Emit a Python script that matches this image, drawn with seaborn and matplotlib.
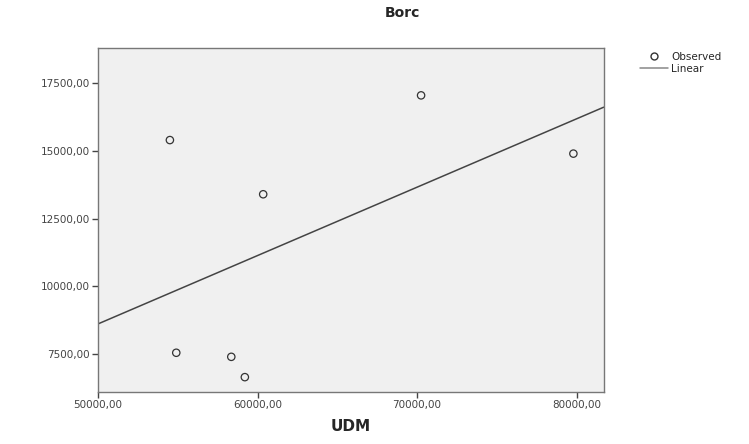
import matplotlib.pyplot as plt
import seaborn as sns
import pandas as pd
from matplotlib.lines import Line2D

udm = [54500, 70250, 79800, 60350, 54900, 58350, 59200]
borc = [15400, 17050, 14900, 13400, 7550, 7400, 6650]

xticks = [50000, 60000, 70000, 80000]
yticks = [7500, 10000, 12500, 15000, 17500]

df = pd.DataFrame({'UDM': udm, 'Borc': borc})

sns.set_style('white')
plt.rcParams['font.family'] = ['DejaVu Sans']

fig = plt.figure(figsize=(7.49, 4.44), dpi=100)
ax = fig.add_axes([0.131, 0.117, 0.675, 0.775])
ax.set_facecolor('#f0f0f0')
ax.set_xlim(50000, 81700)
ax.set_ylim(6100, 18800)

sns.regplot(x='UDM', y='Borc', data=df, ax=ax, ci=None, truncate=False,
            marker='o',
            scatter_kws={'s': 28, 'facecolors': 'none', 'edgecolors': '#333333',
                         'linewidths': 0.9, 'alpha': 1},
            line_kws={'color': '#444444', 'linewidth': 1.1})

ax.set_xticks(xticks)
ax.set_yticks(yticks)
ax.set_xticklabels([f'{v},00' for v in xticks], fontsize=7.5, color='#444444')
ax.set_yticklabels([f'{v},00' for v in yticks], fontsize=7.5, color='#444444')
ax.tick_params(axis='both', direction='out', length=4, width=1, color='#444444',
               left=True, bottom=True, pad=2)
for s in ax.spines.values():
    s.set_color('#777777')
    s.set_linewidth(1)

ax.set_xlabel('UDM', fontsize=11, fontweight='bold', labelpad=6)
ax.set_ylabel('')
fig.text(0.537, 0.97, 'Borc', ha='center', va='center', fontsize=10,
         fontweight='bold')

handles = [
    Line2D([], [], marker='o', linestyle='none', markerfacecolor='none',
           markeredgecolor='#333333', markersize=5, label='Observed'),
    Line2D([], [], color='#888888', linewidth=1.1, label='Linear'),
]
fig.legend(handles=handles, loc='upper left', bbox_to_anchor=(0.854, 0.883),
           frameon=False, fontsize=7.5, handlelength=2.7, handletextpad=0.3,
           labelspacing=0.2, borderaxespad=0, borderpad=0)

fig.savefig('out.png', dpi=100)
